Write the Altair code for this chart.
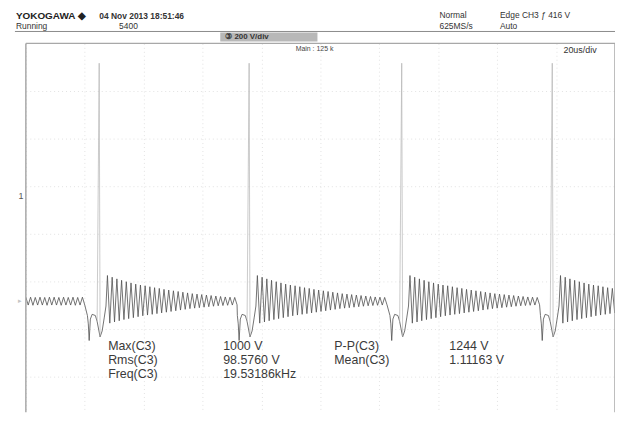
import altair as alt
import pandas as pd

# ---------------- values ----------------
# spike instants in microseconds
pulse_t = [24.9, 75.8, 127.6, 178.7]

# waveform pieces relative to each spike (dt in µs, value in V)
dip_dt = [-4.0, -3.7, -3.4, -3.0, -2.4, -1.3, -0.7]
dip_v = [-60, -95, -165, -75, -55, -60, -85]
spike_dt = [-0.7, 0.0, 0.3]
spike_v = [-85, 1000, -150]
post_dt = [0.3, 1.0, 1.7, 2.3]
post_v = [-150, -125, -70, -20]

# ringing envelope, one value per ringing cycle after each spike
ring_upper = [108, 101, 94, 88, 82, 77, 72, 68, 65, 61, 57, 54, 50, 47,
              44, 41, 38, 35, 32, 30, 28, 26, 24, 22, 20, 18, 17, 16]
ring_lower = [-92, -87, -82, -77, -73, -69, -65, -61, -58, -55, -52, -49, -46, -43,
              -40, -37, -34, -31, -29, -27, -25, -23, -21, -19, -18, -17, -16, -15]
ring_start_dt = 2.8
ring_half_period = 0.8

# low-level ringing visible before the first spike (one value per cycle)
lead_upper = [17, 17, 16, 17, 16, 17, 17, 16, 17, 16, 17, 16, 17]
lead_lower = [-16, -17, -16, -16, -17, -16, -16, -17, -16, -16, -17, -16, -16]
lead_start_t = 0.0

# screen: 20 µs/div horizontally, 200 V/div vertically
grid_t = [0, 20, 40, 60, 80, 100, 120, 140, 160, 180, 200]
grid_v = [-316.7, -116.7, 83.3, 283.3, 483.3, 683.3, 883.3]
t_domain = [0, 200]
v_domain = [-466.7, 1083.3]

# measurement readouts
meas_names_1 = ["Max(C3)", "Rms(C3)", "Freq(C3)"]
meas_vals_1 = ["1000 V", "98.5760 V", "19.53186kHz"]
meas_names_2 = ["P-P(C3)", "Mean(C3)"]
meas_vals_2 = ["1244 V", "1.11163 V"]

# ---------------- build tables ----------------
trace_rows = []
spike_rows = []
for k, (u, l) in enumerate(zip(lead_upper, lead_lower)):
    t0 = lead_start_t + 2 * k * ring_half_period
    trace_rows.append({"t": t0, "v": u})
    trace_rows.append({"t": t0 + ring_half_period, "v": l})
for i, p in enumerate(pulse_t):
    for dt, v in zip(dip_dt, dip_v):
        trace_rows.append({"t": p + dt, "v": v})
    for dt, v in zip(post_dt, post_v):
        trace_rows.append({"t": p + dt, "v": v})
    for k, (u, l) in enumerate(zip(ring_upper, ring_lower)):
        t0 = p + ring_start_dt + 2 * k * ring_half_period
        trace_rows.append({"t": t0, "v": u})
        trace_rows.append({"t": t0 + ring_half_period, "v": l})
    for dt, v in zip(spike_dt, spike_v):
        spike_rows.append({"t": p + dt, "v": v, "pulse": i})

trace_df = pd.DataFrame(trace_rows).sort_values("t")
trace_df = trace_df[(trace_df.t > -3) & (trace_df.t < 203)]
spike_df = pd.DataFrame(spike_rows)

FONT = "Liberation Sans"
OX, OY = 26, 42  # plot origin on the page

x_enc = alt.X("t:Q", scale=alt.Scale(domain=t_domain, nice=False, zero=False),
              axis=alt.Axis(values=grid_t, grid=True, labels=False, ticks=False, domain=False,
                            title=None, gridColor="#e2e2e2", gridDash=[1, 3], gridWidth=1))
y_enc = alt.Y("v:Q", scale=alt.Scale(domain=v_domain, nice=False, zero=False),
              axis=alt.Axis(values=grid_v, grid=True, labels=False, ticks=False, domain=False,
                            title=None, gridColor="#e2e2e2", gridDash=[1, 3], gridWidth=1))

trace = alt.Chart(trace_df).mark_line(color="#505050", strokeWidth=0.8, clip=True).encode(
    x=x_enc, y=y_enc, order="t:Q")

spike = alt.Chart(spike_df).mark_line(color="#b4b4b4", strokeWidth=0.7, clip=True).encode(
    x="t:Q", y="v:Q", detail="pulse:N", order="t:Q")

frame_lr = alt.Chart(pd.DataFrame({"t": t_domain})).mark_rule(
    color="#a8a8a8", strokeWidth=1.5).encode(x="t:Q")
frame_top = alt.Chart(pd.DataFrame({"v": [v_domain[1]]})).mark_rule(
    color="#a8a8a8", strokeWidth=1.5).encode(y="v:Q")

one = alt.Data(values=[{}])


def label(text, x, y, size=8.5, weight="normal", color="#333333", align="left"):
    return alt.Chart(one).mark_text(
        text=text, fontSize=size, fontWeight=weight, color=color, align=align,
        baseline="middle", font=FONT).encode(x=alt.value(x - OX), y=alt.value(y - OY))


header_line = alt.Chart(one).mark_rule(color="#8a8a8a", strokeWidth=1).encode(
    x=alt.value(15 - OX), x2=alt.value(623 - OX), y=alt.value(30 - OY))
gray_box = alt.Chart(one).mark_rect(color="#b8b8b8").encode(
    x=alt.value(222 - OX), x2=alt.value(320 - OX), y=alt.value(31 - OY), y2=alt.value(40 - OY))

texts = [
    label("YOKOGAWA ◆", 16, 14, size=10, weight="bold", color="#222222"),
    label("04 Nov 2013 18:51:46", 100, 14, size=8.5, weight="bold", color="#333333"),
    label("Running", 16, 25, size=8.5, color="#333333"),
    label("5400", 120, 25, size=8.5, color="#333333"),
    label("③ 200 V/div", 227, 36, size=8, weight="bold", color="#333333"),
    label("Normal", 443, 13, size=8.5, color="#333333"),
    label("625MS/s", 443, 25, size=8.5, color="#333333"),
    label("Edge CH3 ƒ 416 V", 504, 13, size=8.5, color="#333333"),
    label("Auto", 504, 25, size=8.5, color="#333333"),
    label("Main : 125 k", 298, 48, size=7, color="#444444"),
    label("20us/div", 568, 49, size=9, color="#333333"),
    label("1", 21, 196, size=9, color="#555555", align="center"),
    label("▸", 20, 302, size=7, color="#c4c4c4", align="center"),
]

rows_y = [347, 361, 375]
for name, val, yy in zip(meas_names_1, meas_vals_1, rows_y):
    texts.append(label(name, 109, yy, size=12.5, color="#3a3a3a"))
    texts.append(label(val, 225, yy, size=12.5, color="#3a3a3a"))
for name, val, yy in zip(meas_names_2, meas_vals_2, rows_y):
    texts.append(label(name, 337, yy, size=12.5, color="#3a3a3a"))
    texts.append(label(val, 453, yy, size=12.5, color="#3a3a3a"))

chart = alt.layer(trace, spike, frame_lr, frame_top, header_line, gray_box, *texts).properties(
    width=594, height=372,
    autosize=alt.AutoSizeParams(type="none"),
    padding={"left": 18, "top": 34, "right": 0, "bottom": 0},
    background="white",
).configure_view(stroke=None)

chart.save("out.html", embed_options={"renderer": "svg", "actions": False})
